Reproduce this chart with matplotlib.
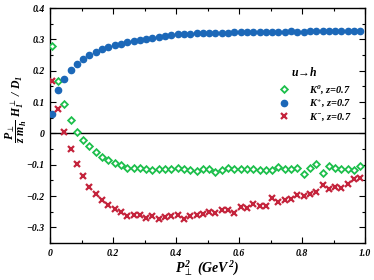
import numpy as np
import matplotlib
matplotlib.use("Agg")
import matplotlib.pyplot as plt
from matplotlib.ticker import MultipleLocator

plt.rcParams['font.family'] = ['Liberation Serif', 'DejaVu Serif']
plt.rcParams['mathtext.fontset'] = 'custom'
plt.rcParams['mathtext.rm'] = 'Liberation Serif:bold:italic'
plt.rcParams['mathtext.it'] = 'Liberation Serif:bold:italic'
plt.rcParams['mathtext.bf'] = 'Liberation Serif:bold:italic'
plt.rcParams['mathtext.fallback'] = 'stix'

# P_perp^2 grid (GeV^2)
pt2 = [round(0.005 + 0.02 * i, 3) for i in range(50)]

k0 = [0.280, 0.166, 0.093, 0.042, 0.004, -0.022, -0.040, -0.060, -0.076, -0.084,
      -0.094, -0.100, -0.109, -0.109, -0.111, -0.115, -0.118, -0.115, -0.113, -0.115,
      -0.111, -0.113, -0.118, -0.121, -0.115, -0.113, -0.124, -0.116, -0.110, -0.113,
      -0.113, -0.115, -0.115, -0.116, -0.116, -0.118, -0.108, -0.113, -0.113, -0.111,
      -0.129, -0.111, -0.099, -0.125, -0.105, -0.111, -0.113, -0.113, -0.116, -0.105]

kplus = [0.063, 0.138, 0.175, 0.202, 0.223, 0.238, 0.251, 0.260, 0.269, 0.275,
         0.282, 0.287, 0.291, 0.295, 0.298, 0.301, 0.305, 0.308, 0.311, 0.314,
         0.316, 0.317, 0.318, 0.319, 0.320, 0.321, 0.321, 0.322, 0.322, 0.323,
         0.323, 0.323, 0.324, 0.324, 0.324, 0.325, 0.324, 0.325, 0.326, 0.325,
         0.325, 0.326, 0.326, 0.327, 0.326, 0.327, 0.327, 0.327, 0.326, 0.326]

kminus = [0.168, 0.079, 0.006, -0.051, -0.097, -0.137, -0.170, -0.195, -0.211, -0.228,
          -0.241, -0.252, -0.263, -0.260, -0.262, -0.271, -0.265, -0.272, -0.268, -0.265,
          -0.262, -0.274, -0.263, -0.260, -0.256, -0.250, -0.254, -0.246, -0.243, -0.254,
          -0.236, -0.238, -0.225, -0.232, -0.233, -0.207, -0.220, -0.211, -0.209, -0.198,
          -0.200, -0.193, -0.186, -0.166, -0.177, -0.170, -0.175, -0.161, -0.145, -0.143]

fig = plt.figure(figsize=(3.74, 2.80), dpi=100)
ax = fig.add_axes([0.134, 0.132, 0.842, 0.839])

ax.axhline(0, color='black', lw=1.0, zorder=1)

ax.plot(pt2, k0, ls='none', marker='D', ms=3.4, mfc='white', mec='#1dbf4c',
        mew=1.3, label='$K^{0}$, z=0.7', zorder=3)
ax.plot(pt2, kplus, ls='none', marker='o', ms=4.5, color='#1c68b8',
        label='$K^{+}$, z=0.7', zorder=3)
ax.plot(pt2, kminus, ls='none', marker='x', ms=4.8, mew=1.6, color='#c4243c',
        label='$K^{-}$, z=0.7', zorder=3)

ax.set_xlim(0, 1.0)
ax.set_ylim(-0.35, 0.4)
ax.xaxis.set_major_locator(MultipleLocator(0.2))
ax.xaxis.set_minor_locator(MultipleLocator(0.1))
ax.yaxis.set_major_locator(MultipleLocator(0.1))
ax.yaxis.set_minor_locator(MultipleLocator(0.05))
ax.tick_params(which='both', direction='in', top=True, right=True, width=0.8)
ax.tick_params(which='major', length=4, labelsize=7, pad=4)
ax.tick_params(which='minor', length=2)
for s in ax.spines.values():
    s.set_linewidth(1.0)

ax.set_xticks([0, 0.2, 0.4, 0.6, 0.8, 1.0])
ax.set_xticklabels(['0', '0.2', '0.4', '0.6', '0.8', '1.0'],
                   fontweight='bold', fontstyle='italic')
yt = [-0.3, -0.2, -0.1, 0, 0.1, 0.2, 0.3, 0.4]
ax.set_yticks(yt)
ax.set_yticklabels(['\u22120.3', '\u22120.2', '\u22120.1', '0', '0.1', '0.2', '0.3', '0.4'],
                   fontweight='bold', fontstyle='italic')

ax.set_xlabel(r'$P_{\perp}^{2}\ (GeV^{2})$', fontsize=10, labelpad=1)
ax.set_ylabel(r'$\dfrac{P_{\perp}}{z\ m_h}\ H_1^{\perp}\ /\ D_1$', fontsize=8.5)
ax.yaxis.set_label_coords(-0.068, 0.57)

leg = ax.legend(loc='upper left', bbox_to_anchor=(0.725, 0.68), frameon=False,
                prop={'size': 7.5, 'weight': 'bold', 'style': 'italic'},
                handletextpad=1.9, labelspacing=0.15, borderpad=0,
                handlelength=1.0, borderaxespad=0)
ax.text(0.765, 0.728, r'$u\!\rightarrow\! h$', transform=ax.transAxes,
        fontsize=8.5, ha='left', va='center')

fig.savefig('out.png', dpi=100)
